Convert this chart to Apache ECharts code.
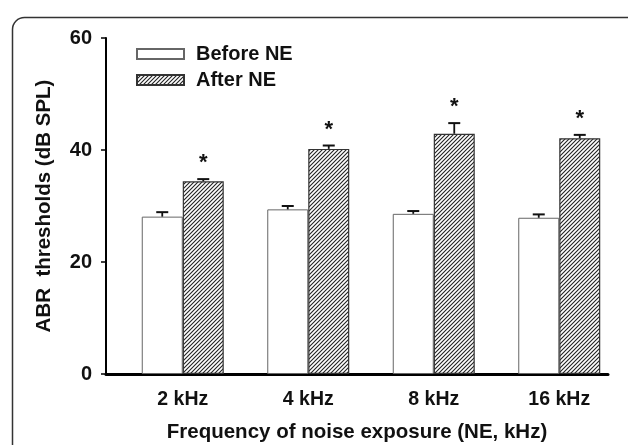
<!DOCTYPE html>
<html>
<head>
<meta charset="utf-8">
<script src="https://cdn.jsdelivr.net/npm/echarts@6/dist/echarts.min.js"></script>
<style>
  html, body { margin: 0; padding: 0; background: #fff; }
  #chart { width: 628px; height: 445px; }
</style>
</head>
<body>
<div id="chart"></div>
<script>
// data
const categories = ['2 kHz', '4 kHz', '8 kHz', '16 kHz'];
const beforeNE = [28.1, 29.4, 28.6, 27.9];
const beforeErr = [0.8, 0.6, 0.5, 0.6];
const afterNE = [34.4, 40.2, 42.9, 42.1];
const afterErr = [0.4, 0.6, 1.9, 0.6];
const afterMarks = ['*', '*', '*', '*'];
const yTicks = { min: 0, max: 60, interval: 20 };

const BAR_W = 41;
const SHIFT = 14; // pair sits a bit right of the band centre

const FONT = '"Liberation Sans", Arial, sans-serif';

// diagonal hatch for the "after" bars
function makeHatch() {
    const c = document.createElement('canvas');
    c.width = 4; c.height = 4;
    const ctx = c.getContext('2d');
    ctx.fillStyle = '#fff';
    ctx.fillRect(0, 0, 4, 4);
    ctx.strokeStyle = '#222';
    ctx.lineWidth = 1.1;
    ctx.beginPath();
    ctx.moveTo(-1, 5); ctx.lineTo(5, -1);
    ctx.moveTo(-1, 1); ctx.lineTo(1, -1);
    ctx.moveTo(3, 5); ctx.lineTo(5, 3);
    ctx.stroke();
    return c;
}
const hatch = { image: makeHatch(), repeat: 'repeat' };

function errorBars(values, errs, offset, marks) {
    return {
        type: 'custom',
        silent: true,
        z: 5,
        data: values.map((v, i) => [i, v, errs[i]]),
        renderItem: (params, api) => {
            const base = api.coord([api.value(0), api.value(1)]);
            const top = api.coord([api.value(0), api.value(1) + api.value(2)]);
            const x = base[0] + offset;
            const children = [
                { type: 'line', shape: { x1: x, y1: base[1], x2: x, y2: top[1] },
                  style: { stroke: '#111', lineWidth: 1.8 } },
                { type: 'line', shape: { x1: x - 6, y1: top[1], x2: x + 6, y2: top[1] },
                  style: { stroke: '#111', lineWidth: 2 } }
            ];
            if (marks) {
                children.push({
                    type: 'text',
                    style: {
                        text: marks[params.dataIndex], x: x, y: top[1] - 16,
                        align: 'center', verticalAlign: 'middle',
                        font: 'bold 22px ' + FONT, fill: '#111'
                    }
                });
            }
            return { type: 'group', children: children };
        }
    };
}

const chart = echarts.init(document.getElementById('chart'));

chart.setOption({
    backgroundColor: '#fff',
    animation: false,
    graphic: [{
        type: 'rect',
        left: 10, top: 15,
        shape: { width: 700, height: 600, r: 12 },
        style: { fill: 'none', stroke: '#333', lineWidth: 1.5 },
        silent: true
    }],
    legend: {
        data: ['Before NE', 'After NE'],
        orient: 'vertical',
        left: 136, top: 44,
        padding: 0,
        itemWidth: 47, itemHeight: 10, itemGap: 6,
        icon: 'rect',
        textStyle: { fontFamily: FONT, fontWeight: 'bold', fontSize: 20, color: '#111', padding: [0, 0, 0, 7] }
    },
    grid: { left: 106, right: 20, top: 38, bottom: 71, outerBoundsMode: 'none' },
    xAxis: {
        type: 'category',
        data: categories,
        axisLine: { lineStyle: { color: '#000', width: 3 } },
        axisTick: { show: false },
        axisLabel: {
            fontFamily: FONT, fontWeight: 'bold', fontSize: 19.5, color: '#111',
            margin: 16, padding: [0, 0, 0, SHIFT * 2]
        },
        name: 'Frequency of noise exposure (NE, kHz)',
        nameLocation: 'middle',
        nameGap: 48,
        nameTextStyle: { fontFamily: FONT, fontWeight: 'bold', fontSize: 20.5, color: '#111' }
    },
    yAxis: {
        type: 'value',
        min: yTicks.min, max: yTicks.max, interval: yTicks.interval,
        axisLine: { show: true, lineStyle: { color: '#000', width: 2 } },
        axisTick: { show: true, length: 5, lineStyle: { color: '#000', width: 1.5 } },
        splitLine: { show: false },
        axisLabel: { fontFamily: FONT, fontWeight: 'bold', fontSize: 20, color: '#111', margin: 14 },
        name: 'ABR  thresholds (dB SPL)',
        nameLocation: 'middle',
        nameGap: 51,
        nameTextStyle: { fontFamily: FONT, fontWeight: 'bold', fontSize: 20.5, color: '#111' }
    },
    series: [
        {
            name: 'spacer', type: 'bar', barWidth: SHIFT * 2, barGap: '0%',
            data: categories.map(() => 0), silent: true,
            itemStyle: { color: 'rgba(0,0,0,0)' }
        },
        {
            name: 'Before NE', type: 'bar', barWidth: BAR_W, barGap: '0%',
            data: beforeNE,
            itemStyle: { color: '#fff', borderColor: '#666', borderWidth: 1 }
        },
        {
            name: 'After NE', type: 'bar', barWidth: BAR_W, barGap: '0%',
            data: afterNE,
            itemStyle: { color: hatch, borderColor: '#333', borderWidth: 1.2 }
        },
        errorBars(beforeNE, beforeErr, SHIFT - BAR_W / 2),
        errorBars(afterNE, afterErr, SHIFT + BAR_W / 2, afterMarks)
    ]
});
</script>
</body>
</html>
